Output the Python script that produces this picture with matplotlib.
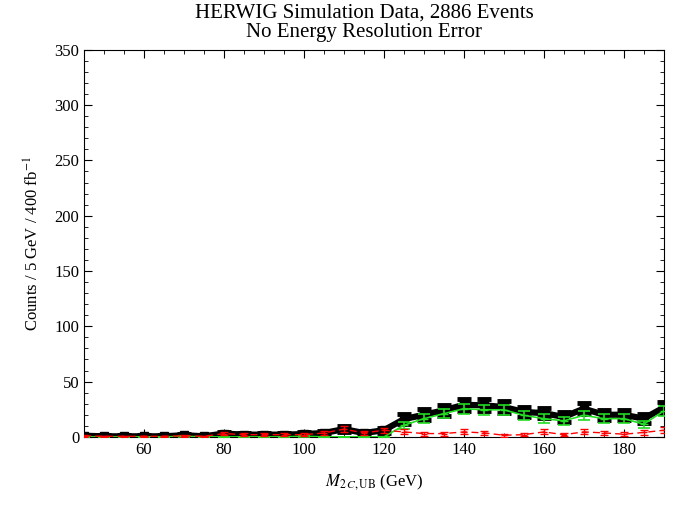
import matplotlib
matplotlib.use("Agg")
import matplotlib.pyplot as plt
from matplotlib.ticker import MultipleLocator

plt.rcParams['font.family'] = ['Liberation Serif', 'DejaVu Serif']
plt.rcParams['mathtext.fontset'] = 'stix'

mass = [45, 50, 55, 60, 65, 70, 75, 80, 85, 90, 95, 100, 105, 110, 115, 120,
        125, 130, 135, 140, 145, 150, 155, 160, 165, 170, 175, 180, 185, 190]
total = [1, 0.5, 0.5, 0.5, 0.5, 1.5, 0.5, 3, 2, 2, 2, 2.5, 3.5, 7, 3.5, 6,
         16, 20, 24, 29, 28.5, 27, 22.5, 21.5, 18, 25.5, 20, 20, 16.5, 26.5]
total_err = [1, 1, 1, 1, 1, 1.2, 1, 1.7, 1.4, 1.4, 1.4, 1.6, 1.9, 2.6, 1.9, 2.4,
             4.3, 4.8, 5.1, 5.5, 5.4, 5.3, 4.9, 4.8, 4.4, 5.2, 4.7, 4.7, 4.3, 5.3]
signal = [0, 0, 0, 0, 0, 0.5, 0, 0, 0, 0, 0, 0.5, 0, 0, 0, 0,
          10.5, 16.5, 21, 25.5, 24.5, 24.5, 19.5, 16.5, 14.5, 19.5, 16.5, 16.5, 11.5, 23.5]
signal_err = [0, 0, 0, 0, 0, 0.5, 0, 0, 0, 0, 0, 0.5, 0, 0, 0, 0,
              3.3, 3.9, 4.2, 4.5, 4.4, 4.4, 4.0, 3.9, 3.6, 4.0, 3.8, 3.8, 3.3, 4.3]
background = [1, 0.5, 0.5, 0.5, 0.5, 1, 0.5, 3, 2, 2, 2, 2, 3.5, 7, 3.5, 6,
              4.5, 3, 3, 4.5, 3.6, 1.5, 2, 4.5, 2, 4.5, 3.6, 2.4, 4, 6]
background_err = [1, 0.7, 0.7, 0.7, 0.7, 1, 0.7, 1.7, 1.4, 1.4, 1.4, 1.4, 1.9, 2.6, 1.9, 2.4,
                  2.2, 1.8, 1.8, 2.3, 2.0, 1.3, 1.5, 2.3, 1.5, 2.3, 2.0, 1.6, 2.1, 2.5]

fig = plt.figure(figsize=(6.78, 5.08), dpi=100)
ax = fig.add_axes([0.124, 0.140, 0.855, 0.762])

ax.errorbar(mass, total, yerr=total_err, color='black', lw=4.5, marker='s', ms=6,
            capsize=5, capthick=3.5, elinewidth=2.5, zorder=2)
ax.errorbar(mass, signal, yerr=signal_err, color='#22dd22', lw=1.2, marker='_', ms=6,
            capsize=4, capthick=1.2, elinewidth=1.2, zorder=3)
ax.errorbar(mass, background, yerr=background_err, color='red', lw=1.0, ls=(0, (5, 3)),
            marker='_', ms=5, capsize=3, capthick=1.0, elinewidth=1.0, zorder=4)

ax.set_xlim(45, 190)
ax.set_ylim(0, 350)
ax.xaxis.set_major_locator(MultipleLocator(20))
ax.xaxis.set_minor_locator(MultipleLocator(5))
ax.yaxis.set_major_locator(MultipleLocator(50))
ax.yaxis.set_minor_locator(MultipleLocator(10))
ax.tick_params(which='both', direction='in', top=True, right=True, labelsize=12)
ax.tick_params(which='major', length=6)
ax.tick_params(which='minor', length=3)

ax.set_xlabel(r'$M_{2\,C,\mathrm{UB}}$ (GeV)', fontsize=12, labelpad=10)
ax.set_ylabel(r'Counts / 5 GeV / 400 fb$^{-1}$', fontsize=12, labelpad=8)
fig.text(0.537, 0.975, 'HERWIG Simulation Data, 2886 Events', ha='center', va='center', fontsize=15)
fig.text(0.537, 0.937, 'No Energy Resolution Error', ha='center', va='center', fontsize=15)

fig.savefig('out.png', dpi=100)
